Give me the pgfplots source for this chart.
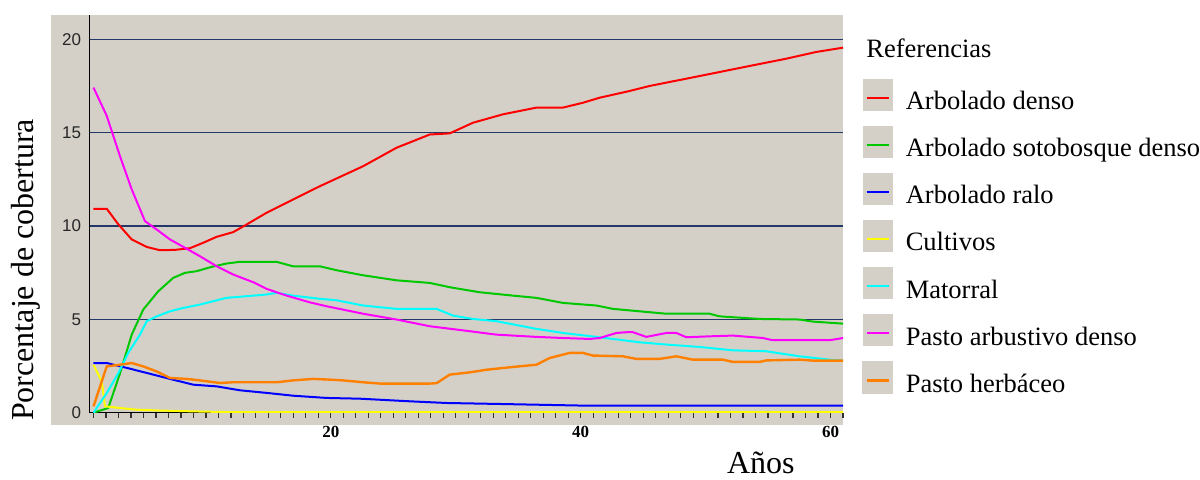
\documentclass[border=0pt]{standalone}
\usepackage{fontspec}
\setmainfont{Liberation Serif}
\setsansfont{Liberation Sans}
\usepackage{pgfplots}
\pgfplotsset{compat=1.18}
\definecolor{bgc}{HTML}{D4D0C8}
\definecolor{gridc}{RGB}{35,55,105}
\definecolor{cgreen}{RGB}{0,200,0}
\definecolor{corange}{RGB}{255,128,0}
\definecolor{cblue}{RGB}{0,0,255}
\definecolor{cyel}{RGB}{255,255,0}
\definecolor{ccyan}{RGB}{0,255,255}
\definecolor{cmag}{RGB}{255,0,255}
\definecolor{cred}{RGB}{255,0,0}

\begin{document}
\begin{tikzpicture}
\useasboundingbox (0,0) rectangle (600pt,240pt);
\fill[bgc] (25.5pt,27.5pt) rectangle (421.5pt,232.5pt);
\begin{axis}[
  at={(44.75pt,33.65pt)}, anchor=south west,
  scale only axis, width=376.75pt, height=198.85pt,
  xmin=0.68, xmax=61, ymin=0, ymax=21.3,
  axis x line=bottom, axis y line=left,
  axis line style={-, black, line width=0.75pt},
  /pgf/number format/assume math mode=true,
  xtick={20,40,60}, minor xtick={1,...,61},
  tick align=outside, major tick length=2.5pt, minor tick length=2.5pt,
  every tick/.style={black!80, line width=0.6pt},
  ytick={0,5,10,15,20}, ytick style={draw=none},
  ymajorgrids, major grid style={gridc, line width=0.7pt},
  xticklabel style={font=\fontsize{8.5}{10}\selectfont\bfseries, anchor=north, inner sep=0pt, yshift=-4pt},
  yticklabel style={font=\sffamily\fontsize{8.5}{10}\selectfont, text=black!85, anchor=east, inner sep=0pt, xshift=-1.5pt},
  xlabel={Años}, ylabel={Porcentaje de cobertura},
  xlabel style={at={(axis description cs:0.891,-0.152)}, anchor=base, font=\fontsize{16}{19}\selectfont},
  ylabel style={at={(axis description cs:-0.0737,0.359)}, anchor=base, font=\fontsize{16}{19}\selectfont},
  legend cell align=left,
  legend style={at={(axis description cs:1.0252,0.841)}, anchor=north west, draw=none, fill=none,
    inner sep=0pt, font=\fontsize{13.25}{15}\selectfont, row sep=7.55pt,
    nodes={inner sep=0pt, text height=15pt, text depth=0pt}},
  legend image code/.code={\fill[bgc] (0pt,-7.5pt) rectangle (14pt,7.5pt); \draw[#1] (1.5pt,-1.5pt) -- (12.5pt,-1.5pt); \path (20.5pt,0pt);},
]
\addplot[cred, line width=1pt] table {
1 10.92
2.06 10.92
3.0 10.08
4.06 9.28
5.26 8.88
6.32 8.70
7.52 8.72
8.72 8.81
9.78 9.10
10.86 9.42
12.18 9.67
13.26 10.08
14.86 10.71
16.98 11.42
19.12 12.13
22.58 13.20
25.26 14.19
27.92 14.90
29.52 14.96
31.38 15.53
33.78 15.98
36.46 16.34
38.58 16.34
40.18 16.60
41.52 16.87
43.92 17.23
45.52 17.50
49.52 18.03
53.52 18.57
56.46 18.96
58.86 19.32
61 19.55
};
\addlegendentry{Arbolado denso}
\addplot[cgreen, line width=1pt] table {
1 0.0
2.18 0.25
3.12 2.10
4.06 4.18
4.98 5.52
6.18 6.50
7.38 7.22
8.32 7.49
9.26 7.58
10.46 7.81
11.66 7.99
12.72 8.08
15.66 8.08
16.98 7.84
19.12 7.84
20.46 7.63
22.58 7.36
25.26 7.09
27.92 6.95
29.52 6.72
31.92 6.45
34.58 6.27
36.46 6.15
38.58 5.88
41.26 5.74
42.58 5.56
44.72 5.43
46.86 5.30
50.32 5.30
51.12 5.16
54.32 5.02
57.52 4.99
58.58 4.88
61 4.77
};
\addlegendentry{Arbolado sotobosque denso}
\addplot[cblue, line width=1pt] table {
1 2.66
2.06 2.66
3.66 2.40
5.26 2.13
7.12 1.81
8.98 1.50
10.86 1.41
12.72 1.20
14.86 1.06
16.98 0.91
19.66 0.79
22.32 0.75
26.32 0.61
29.26 0.52
33.26 0.47
40.18 0.38
61 0.38
};
\addlegendentry{Arbolado ralo}
\addplot[cyel, line width=1pt] table {
1 2.57
1.66 1.68
1.92 0.34
3.12 0.25
4.46 0.16
6.06 0.12
8.98 0.07
11.9 0.03
61 0.03
};
\addlegendentry{Cultivos}
\addplot[ccyan, line width=1pt] table {
1 0.0
2.06 1.05
3.0 2.13
3.78 3.20
4.72 4.18
5.26 4.90
6.06 5.16
7.12 5.43
8.18 5.61
9.52 5.79
10.58 5.97
11.66 6.15
13.26 6.24
14.86 6.33
15.66 6.42
16.98 6.27
19.12 6.10
20.46 6.02
22.58 5.74
25.26 5.56
28.46 5.56
29.78 5.20
31.38 5.02
33.26 4.90
36.46 4.49
38.58 4.27
41.26 4.06
44.72 3.77
46.86 3.65
49.52 3.52
52.18 3.34
54.86 3.29
57.52 3.02
59.92 2.84
61 2.80
};
\addlegendentry{Matorral}
\addplot[cmag, line width=1pt] table {
1 17.41
2.06 15.90
3.12 13.74
4.06 11.96
5.12 10.26
6.06 9.81
7.12 9.28
8.46 8.78
9.52 8.38
10.86 7.84
12.18 7.40
13.78 6.99
14.86 6.63
16.46 6.27
18.32 5.91
19.66 5.70
20.98 5.52
22.58 5.30
25.26 4.99
27.92 4.63
30.58 4.41
33.26 4.18
36.46 4.06
38.58 4.00
40.72 3.95
41.52 4.00
42.86 4.27
43.66 4.31
44.18 4.31
45.26 4.06
46.86 4.27
47.66 4.27
48.46 4.04
50.32 4.09
52.18 4.13
54.58 4.00
55.38 3.88
59.92 3.88
61 4.00
};
\addlegendentry{Pasto arbustivo denso}
\addplot[corange, line width=1.2pt] table {
1 0.34
2.06 2.48
3.12 2.57
4.06 2.66
4.98 2.48
6.06 2.21
7.12 1.86
8.46 1.81
9.52 1.73
11.12 1.59
12.18 1.63
15.66 1.63
16.98 1.73
18.58 1.81
19.92 1.77
20.98 1.73
22.58 1.63
23.92 1.56
27.92 1.56
28.46 1.58
29.52 2.04
31.12 2.16
32.46 2.30
34.58 2.45
36.46 2.57
37.52 2.93
39.12 3.20
40.18 3.20
40.98 3.06
43.38 3.02
44.46 2.88
46.32 2.88
47.66 3.02
48.98 2.84
51.38 2.84
52.18 2.72
54.32 2.72
54.86 2.80
57.52 2.84
58.58 2.79
61 2.79
};
\addlegendentry{Pasto herbáceo}
\end{axis}
\node[anchor=base west, inner sep=0pt, font=\fontsize{13.25}{15}\selectfont] at (433pt,211.35pt) {Referencias};
\end{tikzpicture}
\end{document}
